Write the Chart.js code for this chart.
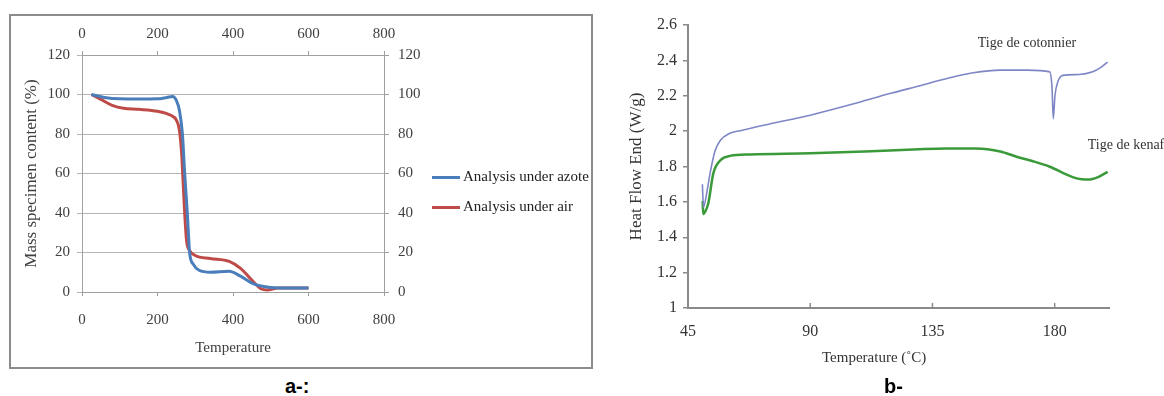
<!DOCTYPE html>
<html>
<head>
<meta charset="utf-8">
<script src="https://cdn.jsdelivr.net/npm/chart.js@4"></script>
<style>
  body { margin: 0; width: 1164px; height: 396px; background: #fff; position: relative; overflow: hidden; font-family: 'Liberation Serif', serif; }
  #boxA { position: absolute; left: 9px; top: 14px; width: 580px; height: 351px; border: 2px solid #8c8c8c; }
  #wrapA { position: absolute; left: 0; top: 0; width: 579px; height: 350px; }
  #wrapB { position: absolute; left: 600px; top: 0; width: 564px; height: 380px; }
  .legend { position: absolute; left: 421px; top: 150px; font-size: 15px; color: #222; }
  .legend div { height: 30px; line-height: 20px; white-space: nowrap; }
  .legend span { display: inline-block; width: 28px; height: 3px; vertical-align: middle; margin-right: 3px; }
  .tag { position: absolute; font-family: 'Liberation Sans', Arial, sans-serif; font-weight: bold; font-size: 20px; color: #000; }
  #titleBx { position: absolute; left: 822px; top: 349px; font-size: 15px; color: #333; }
</style>
</head>
<body>
<div id="boxA">
  <div id="wrapA"><canvas id="chartA"></canvas></div>
  <div class="legend" id="legendA"></div>
</div>
<div id="wrapB"><canvas id="chartB"></canvas></div>
<div id="titleBx">Temperature (˚C)</div>
<div class="tag" style="left:285px; top:375px;">a-:</div>
<div class="tag" style="left:884px; top:375px;">b-</div>

<script>
// ---- chart a data: thermogravimetric analysis ----
const aXTicks = [0, 200, 400, 600, 800];
const aYTicks = [0, 20, 40, 60, 80, 100, 120];
const azoteTemp = [25, 60, 100, 150, 200, 225, 240, 250, 258, 266, 272, 279, 285, 295, 310, 340, 390, 420, 450, 490, 540, 600];
const azoteMass = [100, 98.5, 97.8, 97.7, 97.8, 98.5, 99, 97, 92, 80, 60, 40, 20, 14, 11, 10, 10.5, 8, 4.5, 2.5, 2, 2];
const airTemp = [25, 50, 80, 110, 150, 200, 235, 250, 258, 264, 268, 272, 277, 285, 300, 340, 390, 420, 450, 475, 490, 520, 600];
const airMass = [100, 97.5, 94.5, 93, 92.5, 91.5, 89.5, 87, 82, 70, 55, 40, 26, 21, 18.5, 17, 15.5, 12, 6, 1.5, 1, 2, 2];

// ---- chart b data: DSC curves ----
const bXTicks = [45, 90, 135, 180];
const bYTicks = [1, 1.2, 1.4, 1.6, 1.8, 2, 2.2, 2.4, 2.6];
const cottonTemp = [50.3, 50.7, 51.9, 53.1, 55, 57, 60, 65, 75, 90, 105, 120, 130, 141, 150, 160, 170, 178.2, 179, 179.5, 180.1, 181.2, 183, 189, 194, 197, 199.5];
const cottonHF = [1.70, 1.57, 1.65, 1.76, 1.89, 1.95, 1.985, 2.005, 2.04, 2.09, 2.15, 2.215, 2.255, 2.30, 2.33, 2.345, 2.345, 2.335, 2.25, 2.07, 2.2, 2.28, 2.315, 2.32, 2.335, 2.36, 2.39];
const kenafTemp = [50.4, 50.6, 51.5, 52.5, 54.3, 57, 60.5, 68, 90, 110, 130, 140, 151, 160, 166, 172, 178, 186.6, 190, 193, 196, 199.5];
const kenafHF = [1.605, 1.532, 1.55, 1.594, 1.76, 1.836, 1.86, 1.868, 1.875, 1.885, 1.898, 1.902, 1.902, 1.885, 1.855, 1.83, 1.80, 1.74, 1.728, 1.727, 1.74, 1.77];
const bNotes = [
  { text: 'Tige de cotonnier', x: 151.7, y: 2.497 },
  { text: 'Tige de kenaf', x: 192.2, y: 1.921 }
];

const toPoints = (xs, ys) => xs.map((x, i) => ({ x: x, y: ys[i] }));
const fixTicks = list => scale => { scale.ticks = list.map(v => ({ value: v })); };

Chart.defaults.font.family = "'Liberation Serif', 'Times New Roman', serif";
Chart.defaults.animation = false;

// Chart a
const setsA = [
  { label: 'Analysis under azote', data: toPoints(azoteTemp, azoteMass), borderColor: '#4a7ebb' },
  { label: 'Analysis under air', data: toPoints(airTemp, airMass), borderColor: '#be4b48' }
];
setsA.forEach(s => {
  s.borderWidth = 3;
  s.pointRadius = 0;
  s.cubicInterpolationMode = 'monotone';
  s.xAxisID = 'x';
  s.yAxisID = 'y';
});

const tickFontA = { size: 15 };
new Chart(document.getElementById('chartA'), {
  type: 'line',
  data: { datasets: setsA },
  options: {
    responsive: true,
    maintainAspectRatio: false,
    layout: { padding: 0 },
    plugins: { legend: { display: false }, tooltip: { enabled: false } },
    scales: {
      x: {
        type: 'linear', position: 'bottom', min: 0, max: 800,
        afterBuildTicks: fixTicks(aXTicks),
        afterFit: s => { s.height = 74; },
        grid: { drawOnChartArea: false, tickLength: 4, color: '#a0a0a0' },
        border: { color: '#a0a0a0' },
        ticks: { font: tickFontA, color: '#404040', padding: 15, maxRotation: 0 },
        title: { display: true, text: 'Temperature', font: { size: 15 }, color: '#404040', padding: { bottom: 9 } }
      },
      x2: {
        type: 'linear', position: 'top', min: 0, max: 800,
        afterBuildTicks: fixTicks(aXTicks),
        afterFit: s => { s.height = 39; },
        grid: { drawOnChartArea: false, tickLength: 4, color: '#a0a0a0' },
        border: { color: '#a0a0a0' },
        ticks: { font: tickFontA, color: '#404040', padding: 8, maxRotation: 0 }
      },
      y: {
        type: 'linear', position: 'left', min: 0, max: 120,
        afterBuildTicks: fixTicks(aYTicks),
        afterFit: s => { s.width = 71; },
        grid: { color: '#b4b4b4', tickLength: 5 },
        border: { color: '#a0a0a0' },
        ticks: { font: tickFontA, color: '#404040', padding: 7 },
        title: { display: true, text: 'Mass specimen content (%)', font: { size: 17 }, color: '#404040', padding: { top: 10 } }
      },
      y2: {
        type: 'linear', position: 'right', min: 0, max: 120,
        afterBuildTicks: fixTicks(aYTicks),
        afterFit: s => { s.width = 206; },
        grid: { drawOnChartArea: false, tickLength: 5, color: '#a0a0a0' },
        border: { color: '#a0a0a0' },
        ticks: { font: tickFontA, color: '#404040', padding: 9 }
      }
    }
  }
});

// html legend for chart a
document.getElementById('legendA').innerHTML = setsA.map(s =>
  '<div><span style="background:' + s.borderColor + '"></span>' + s.label + '</div>').join('');

// Chart b
const innerTicks = {
  id: 'innerTicks',
  afterDraw(chart) {
    const s = chart.scales.x;
    const ctx = chart.ctx;
    ctx.save();
    ctx.strokeStyle = '#8a8a8a';
    ctx.lineWidth = 1.5;
    s.ticks.slice(1).forEach(t => {
      const px = s.getPixelForValue(t.value);
      ctx.beginPath();
      ctx.moveTo(px, s.top);
      ctx.lineTo(px, s.top - 5);
      ctx.stroke();
    });
    ctx.restore();
  }
};

const curveNotes = {
  id: 'curveNotes',
  afterDraw(chart) {
    const { ctx, scales } = chart;
    ctx.save();
    ctx.font = "14px 'Liberation Serif', serif";
    ctx.fillStyle = '#333';
    ctx.textAlign = 'left';
    ctx.textBaseline = 'middle';
    bNotes.forEach(n => {
      ctx.fillText(n.text, scales.x.getPixelForValue(n.x), scales.y.getPixelForValue(n.y));
    });
    ctx.restore();
  }
};

const tickFontB = { size: 16 };
new Chart(document.getElementById('chartB'), {
  type: 'line',
  data: {
    datasets: [
      { label: 'Tige de cotonnier', data: toPoints(cottonTemp, cottonHF), borderColor: '#7f86c6', borderWidth: 1.6, pointRadius: 0, cubicInterpolationMode: 'monotone' },
      { label: 'Tige de kenaf', data: toPoints(kenafTemp, kenafHF), borderColor: '#3a9a3a', borderWidth: 2.5, pointRadius: 0, cubicInterpolationMode: 'monotone' }
    ]
  },
  options: {
    responsive: true,
    maintainAspectRatio: false,
    layout: { padding: { top: 25, right: 55 } },
    plugins: { legend: { display: false }, tooltip: { enabled: false } },
    scales: {
      x: {
        type: 'linear', min: 45, max: 200,
        afterBuildTicks: fixTicks(bXTicks),
        afterFit: s => { s.height = 72; },
        grid: { display: false, drawTicks: false },
        border: { color: '#8a8a8a', width: 2 },
        ticks: { font: tickFontB, color: '#333', padding: 14, maxRotation: 0, callback: v => String(v) }
      },
      y: {
        type: 'linear', min: 1, max: 2.6,
        afterBuildTicks: fixTicks(bYTicks),
        afterFit: s => { s.width = 88; },
        grid: { drawOnChartArea: false, tickLength: 5, color: '#8a8a8a', lineWidth: 1.5 },
        border: { color: '#8a8a8a', width: 2 },
        ticks: { font: tickFontB, color: '#333', padding: 6, callback: v => String(v) },
        title: { display: true, text: 'Heat Flow End (W/g)', font: { size: 17 }, color: '#333', padding: { top: 26 } }
      }
    }
  },
  plugins: [innerTicks, curveNotes]
});
</script>
</body>
</html>
